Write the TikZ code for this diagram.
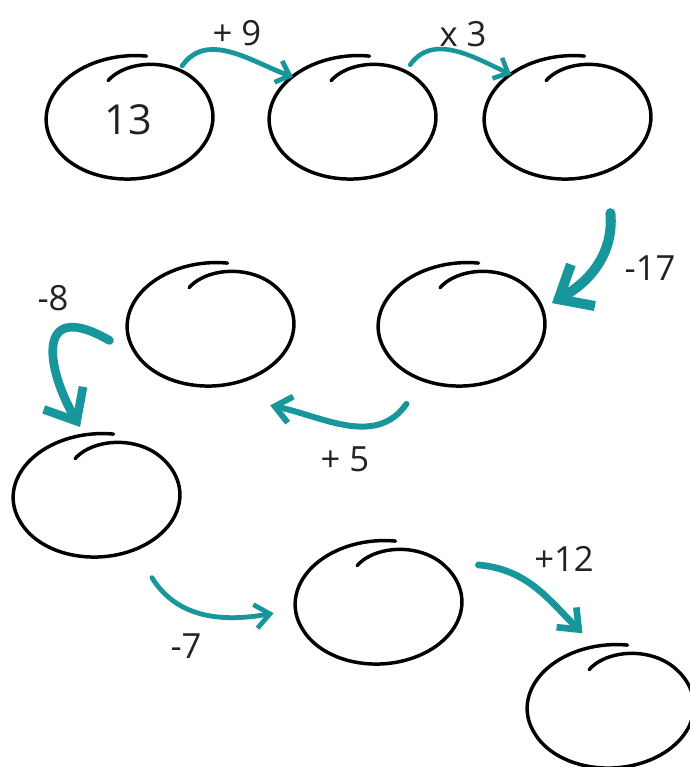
\documentclass[tikz,border=0pt]{standalone}
\usepackage{fontspec}
\setmainfont{Open Sans}
\usetikzlibrary{arrows.meta,shapes.geometric}
\definecolor{tealarrow}{RGB}{23,151,156}
\definecolor{ink}{RGB}{34,34,34}
\tikzset{
  doodle/.pic={
    \draw[sketch, rotate=3] plot[samples=110, domain=77:470, variable=\t]
      ({83*cos(\t)*(1+0.06*max(0,(200-\t)/123)-0.3*pow(max(0,(\t-400)/70),2))},
       {60*sin(\t)*(1+0.06*max(0,(200-\t)/123)-0.3*pow(max(0,(\t-400)/70),2))});
  },
  bubble/.style={ellipse, minimum width=124.5pt, minimum height=91.5pt, inner sep=0pt, outer sep=0pt},
  sketch/.style={line width=2.6pt, line cap=round, line join=round, black},
  arr/.style={draw=tealarrow, line cap=round, line width=#1},
  lab/.style={font=\fontsize{26}{30}\selectfont, text=ink, inner sep=0pt}
}
\begin{document}
\begin{tikzpicture}[x=0.75pt,y=0.75pt]
\path[use as bounding box, fill=white] (0,0) rectangle (689,-767);

% bubbles
\node[bubble] (c1) at (130,-119) {};
\node[bubble] (c2) at (353,-119) {};
\node[bubble] (c3) at (568,-119) {};
\node[bubble] (c4) at (211,-326) {};
\node[bubble] (c5) at (462,-326) {};
\node[bubble] (c6) at (97,-497) {};
\node[bubble] (c7) at (379,-604) {};
\node[bubble] (c8) at (611,-708) {};
\foreach \p in {(130,-119),(353,-119),(568,-119),(211,-326),(462,-326),(97,-497),(379,-604),(611,-708)}
  \pic at \p {doodle};

\node[lab, font=\fontsize{31}{36}\selectfont] (n13) at (128,-120) {13};

% arrows
\draw[arr=3.6pt, -{Straight Barb[length=9pt,width=17pt]}]
  ([shift={(3,4)}]c1.45) to[out=55,in=160] (c2.145);
\draw[arr=3.4pt, -{Straight Barb[length=9pt,width=17pt]}]
  ([shift={(8,5)}]c2.45) to[out=55,in=155] (c3.142);
\draw[arr=7.5pt, -{Straight Barb[length=21pt,width=36pt]}]
  ([shift={(10,-38)}]c3.-60) to[out=-85,in=30] ([shift={(12,2)}]c5.15);
\draw[arr=4.5pt, -{Straight Barb[length=12pt,width=20pt]}]
  ([shift={(-12,-26)}]c5.-130) to[out=-125,in=-12] ([shift={(19,-26)}]c4.-53);
\draw[arr=6.5pt, -{Straight Barb[length=20pt,width=34pt]}]
  ([shift={(-20,-3)}]c4.188) .. controls +(150:85) and +(120:70) .. ([shift={(-2,10)}]c6.104);
\draw[arr=3.6pt, -{Straight Barb[length=11pt,width=18pt]}]
  ([shift={(18,-26)}]c6.-56) to[out=-58,in=190] ([shift={(-23,-2)}]c7.185);
\draw[arr=5pt, -{Straight Barb[length=13pt,width=21pt]}]
  ([shift={(25,12)}]c7.20) to[out=-5,in=135] ([shift={(-6,16)}]c8.111);

% labels
\node[lab] (l1) at (237,-33) {+ 9};
\node[lab] (l2) at (463,-34) {x 3};
\node[lab] (l3) at (650,-268) {-17};
\node[lab] (l4) at (345,-459) {+ 5};
\node[lab] (l5) at (53,-298) {-8};
\node[lab] (l6) at (186,-646) {-7};
\node[lab] (l7) at (564,-559) {+12};
\end{tikzpicture}
\end{document}
